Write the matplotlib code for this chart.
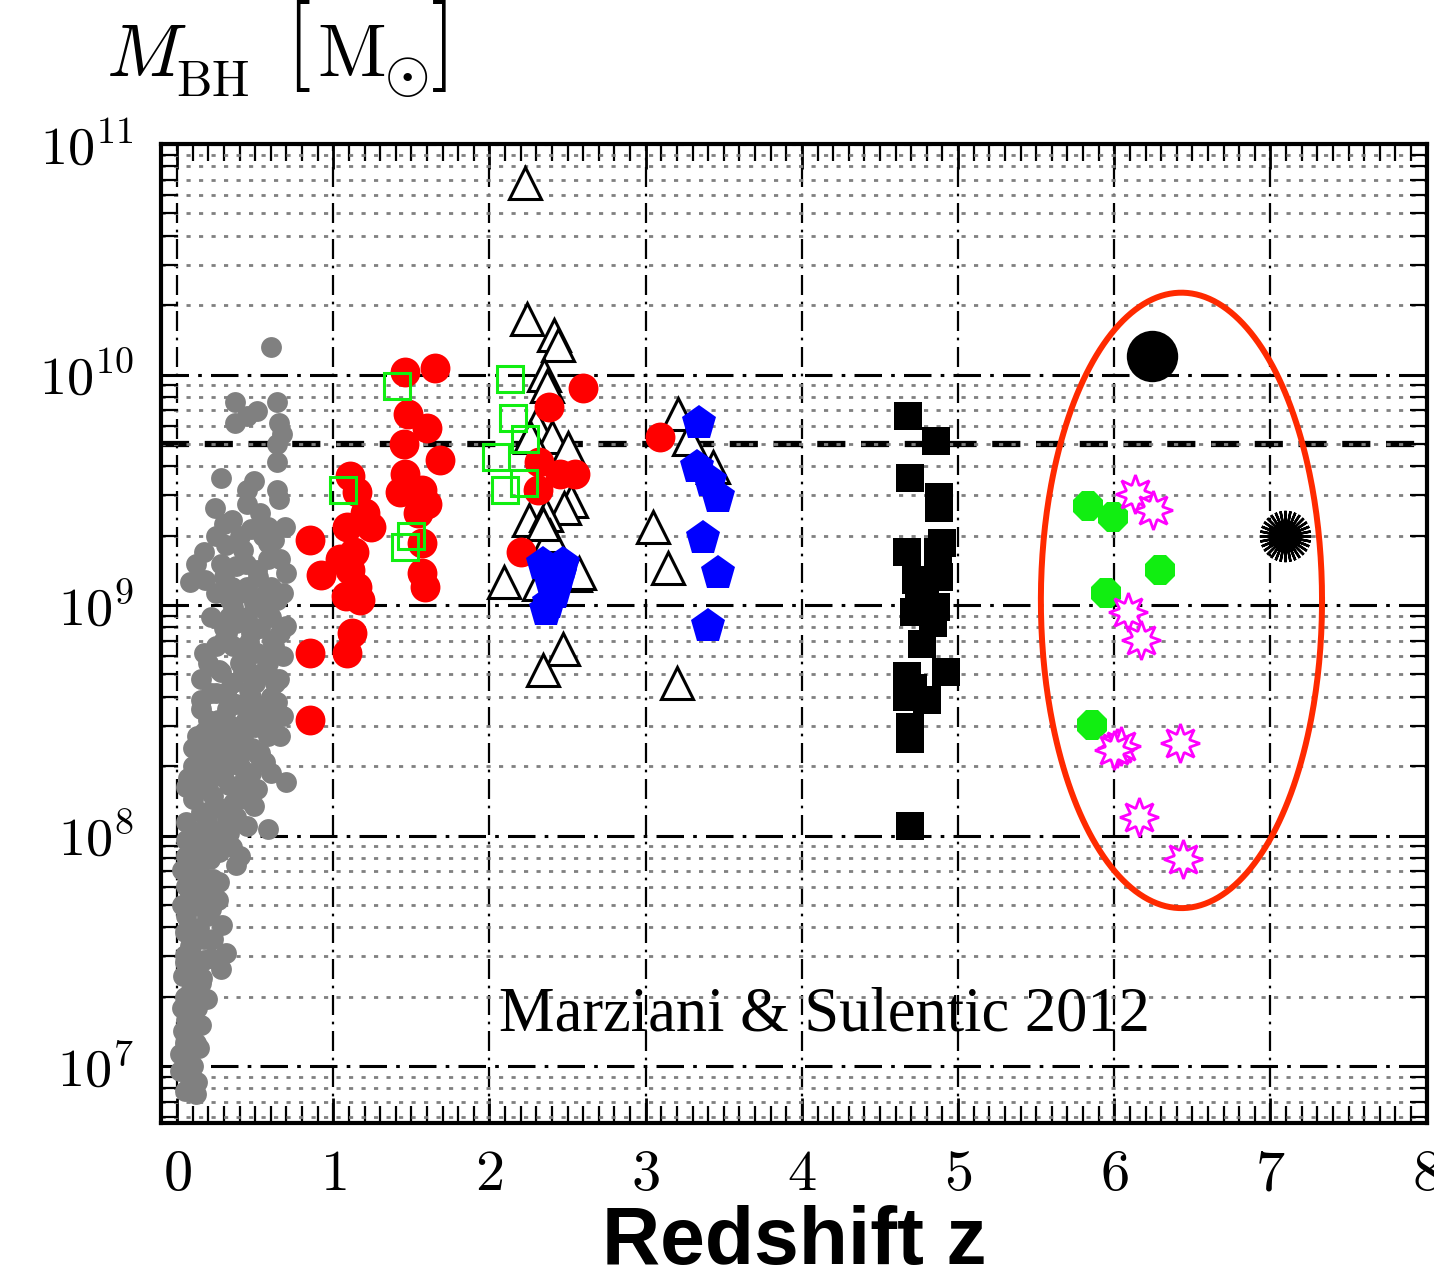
"""Black hole mass versus redshift (after Marziani & Sulentic 2012)."""

import numpy as np
import matplotlib
matplotlib.use('Agg')
from matplotlib import pyplot
from matplotlib.ticker import FixedLocator, FixedFormatter, MultipleLocator, LogLocator, NullFormatter

# --- data: redshift z and log10(M_BH / M_sun) for each sample ---
gray_z = [0.37, 0.37, 0.45, 0.51, 0.64, 0.65, 0.67, 0.64, 0.64, 0.28, 0.49, 0.45, 0.64, 0.65,
          0.24, 0.45, 0.35, 0.53, 0.58, 0.69, 0.17, 0.12, 0.18, 0.08, 0.31, 0.42, 0.58, 0.66,
          0.38, 0.51, 0.70, 0.35, 0.45, 0.60, 0.34, 0.49, 0.64, 0.33, 0.45, 0.60, 0.70, 0.32,
          0.17, 0.47, 0.61, 0.36, 0.51, 0.68, 0.65, 0.15, 0.28, 0.42, 0.55, 0.15, 0.32, 0.47,
          0.61, 0.64, 0.15, 0.32, 0.47, 0.13, 0.28, 0.42, 0.58, 0.66, 0.17, 0.36, 0.53, 0.60,
          0.70, 0.06, 0.17, 0.28, 0.42, 0.51, 0.10, 0.23, 0.36, 0.49, 0.06, 0.19, 0.32, 0.45,
          0.58, 0.06, 0.19, 0.32, 0.40, 0.06, 0.21, 0.38, 0.08, 0.23, 0.08, 0.26, 0.06, 0.19,
          0.29, 0.05, 0.17, 0.31, 0.05, 0.17, 0.28, 0.04, 0.15, 0.19, 0.06, 0.10, 0.04, 0.12,
          0.06, 0.02, 0.13, 0.05, 0.12, 0.60, 0.26, 0.22, 0.10, 0.20, 0.25, 0.40, 0.55, 0.30,
          0.22, 0.12, 0.25, 0.35, 0.14, 0.27, 0.09, 0.20,
          0.25, 0.30, 0.40, 0.47, 0.55, 0.62, 0.28, 0.44, 0.58, 0.25, 0.40, 0.55, 0.68,
          0.22, 0.38, 0.53, 0.66, 0.25, 0.42, 0.58, 0.20, 0.35, 0.50, 0.63, 0.22, 0.38,
          0.54, 0.68, 0.20, 0.34, 0.50, 0.62, 0.10, 0.22, 0.32, 0.48, 0.56, 0.12, 0.25,
          0.40, 0.47, 0.14, 0.33, 0.44, 0.15, 0.27, 0.38, 0.10, 0.24, 0.35, 0.12, 0.27,
          0.03, 0.14, 0.20, 0.12, 0.03, 0.22, 0.10, 0.23, 0.08, 0.11, 0.22, 0.09, 0.13,
          0.03, 0.07, 0.02, 0.10, 0.08,
          0.30, 0.52, 0.36, 0.56, 0.30, 0.46, 0.62, 0.27, 0.44, 0.58, 0.30, 0.46, 0.60,
          0.17, 0.30, 0.44, 0.56, 0.18, 0.30, 0.40, 0.52, 0.07, 0.18, 0.30, 0.40, 0.20,
          0.33, 0.06, 0.16, 0.27, 0.14, 0.05, 0.16, 0.06, 0.15, 0.05, 0.14, 0.05]
gray_logm = [9.88, 9.79, 9.82, 9.84, 9.88, 9.79, 9.74, 9.70, 9.62, 9.55, 9.54, 9.50, 9.50, 9.46,
             9.42, 9.44, 9.37, 9.40, 9.34, 9.34, 9.23, 9.18, 9.11, 9.10, 9.26, 9.24, 9.27, 9.20,
             9.17, 9.15, 9.14, 9.08, 9.08, 9.08, 9.02, 9.01, 9.02, 8.95, 8.95, 8.95, 8.91, 8.88,
             8.79, 8.88, 8.85, 8.82, 8.79, 8.78, 8.68, 8.68, 8.71, 8.71, 8.71, 8.59, 8.60, 8.60,
             8.59, 8.58, 8.55, 8.55, 8.53, 8.43, 8.45, 8.43, 8.43, 8.43, 8.36, 8.37, 8.36, 8.27,
             8.23, 8.21, 8.27, 8.26, 8.23, 8.20, 8.16, 8.17, 8.14, 8.13, 8.06, 8.07, 8.06, 8.04,
             8.03, 7.98, 7.97, 7.98, 7.91, 7.91, 7.90, 7.87, 7.82, 7.81, 7.74, 7.72, 7.65, 7.65,
             7.61, 7.58, 7.55, 7.49, 7.48, 7.46, 7.42, 7.39, 7.36, 7.29, 7.29, 7.20, 7.15, 7.10,
             7.04, 6.98, 6.93, 6.89, 6.88, 10.12, 8.50, 8.40, 8.30, 8.10, 8.62, 8.75, 8.52, 8.90,
             8.00, 7.95, 8.48, 8.66, 7.70, 8.33, 7.52, 8.20,
             9.30, 9.35, 9.30, 9.33, 9.30, 9.28, 9.18, 9.18, 9.20, 9.05, 9.05, 9.04, 9.05,
             8.95, 8.92, 8.90, 8.88, 8.82, 8.80, 8.75, 8.75, 8.66, 8.66, 8.66, 8.62, 8.57,
             8.55, 8.52, 8.50, 8.48, 8.47, 8.50, 8.38, 8.40, 8.40, 8.38, 8.32, 8.30, 8.32,
             8.30, 8.27, 8.20, 8.22, 8.16, 8.10, 8.12, 8.08, 8.02, 8.02, 7.95, 7.93, 7.93,
             7.85, 7.85, 7.76, 7.70, 7.70, 7.68, 7.60, 7.55, 7.52, 7.43, 7.47, 7.33, 7.25,
             7.25, 7.12, 7.05, 7.00, 6.92,
             9.12, 9.12, 8.99, 8.98, 8.85, 8.84, 8.82, 8.72, 8.73, 8.70, 8.62, 8.63, 8.60,
             8.45, 8.47, 8.50, 8.46, 8.34, 8.33, 8.35, 8.35, 8.25, 8.25, 8.28, 8.19, 8.00,
             8.01, 7.78, 7.78, 7.80, 7.60, 7.45, 7.38, 7.20, 7.18, 7.30, 7.08, 7.10]

red_z = [0.85, 0.92, 0.85, 0.85, 1.11, 1.15, 1.20, 1.24, 1.09, 1.13, 1.11, 1.15, 1.08, 1.17,
         1.12, 1.09, 1.04, 1.46, 1.65, 1.48, 1.60, 1.45, 1.68, 1.46, 1.57, 1.43, 1.60, 1.54,
         1.57, 1.57, 1.59, 2.60, 2.38, 2.32, 2.45, 2.55, 2.31, 2.20, 3.09]
red_logm = [9.28, 9.13, 8.79, 8.50, 9.56, 9.49, 9.40, 9.34, 9.34, 9.23, 9.15, 9.08, 9.04, 9.02,
            8.88, 8.79, 9.20, 10.01, 10.03, 9.83, 9.77, 9.70, 9.63, 9.57, 9.50, 9.49, 9.44, 9.40,
            9.27, 9.14, 9.08, 9.94, 9.86, 9.62, 9.57, 9.57, 9.50, 9.23, 9.73]

sq_green_z = [1.41, 1.06, 1.50, 1.46, 2.13, 2.15, 2.23, 2.04, 2.22, 2.10]
sq_green_logm = [9.95, 9.50, 9.30, 9.25, 9.98, 9.81, 9.72, 9.64, 9.53, 9.50]

tri_z = [2.23, 2.24, 2.41, 2.44, 2.35, 2.37, 2.30, 2.40, 2.26, 2.50, 2.52, 2.48, 2.25, 2.36,
         2.39, 2.34, 2.55, 2.09, 2.32, 2.47, 2.34, 2.57, 3.21, 3.28, 3.43, 3.05, 3.14, 3.20]
tri_logm = [10.83, 10.24, 10.17, 10.13, 10.00, 9.95, 9.78, 9.73, 9.73, 9.68, 9.45, 9.42, 9.37,
            9.39, 9.30, 9.35, 9.13, 9.10, 9.09, 8.81, 8.72, 9.14, 9.83, 9.72, 9.60, 9.34, 9.16,
            8.66]

blue_z = [2.34, 2.47, 2.42, 2.36, 2.39, 2.45, 2.38, 3.34, 3.33, 3.41, 3.46, 3.37, 3.46, 3.40]
blue_logm = [9.18, 9.18, 9.05, 8.98, 9.11, 9.13, 9.01, 9.79, 9.60, 9.54, 9.47, 9.29, 9.14, 8.91]

black_sq_z = [4.68, 4.86, 4.69, 4.88, 4.88, 4.90, 4.67, 4.87, 4.73, 4.88, 4.86, 4.72, 4.77,
              4.92, 4.67, 4.80, 4.69, 4.69, 4.69, 4.79, 4.71, 4.84, 4.67, 4.75]
black_sq_logm = [9.82, 9.71, 9.55, 9.47, 9.42, 9.27, 9.23, 9.23, 9.11, 9.12, 8.99, 8.97, 8.83,
                 8.71, 8.69, 8.59, 8.47, 8.42, 8.04, 9.07, 8.64, 8.92, 8.60, 9.00]

oct_z = [5.83, 5.99, 6.29, 5.95, 5.86]
oct_logm = [9.43, 9.38, 9.15, 9.05, 8.48]

star_z = [6.13, 6.25, 6.09, 6.17, 6.02, 6.04, 6.00, 6.42, 6.16, 6.44]
star_logm = [9.48, 9.41, 8.97, 8.85, 8.38, 8.39, 8.37, 8.40, 8.08, 7.90]

big_z, big_logm = [6.24], [10.08]
burst_z, burst_logm = [7.09], [9.30]

# high-z ellipse: centre (z, logM) and half axes (z, dex)
ring_centre = (6.43, 9.02)
ring_half = (0.90, 1.335)
mass_line = 5e9

ztick_values = [0, 1, 2, 3, 4, 5, 6, 7, 8]
ztick_labels = ['$0$', '$1$', '$2$', '$3$', '$4$', '$5$', '$6$', '$7$', '$8$']
mtick_values = [1e7, 1e8, 1e9, 1e10, 1e11]
mtick_labels = [r'$10^{7}$', r'$10^{8}$', r'$10^{9}$', r'$10^{10}$', r'$10^{11}$']

pyplot.rcParams['mathtext.fontset'] = 'cm'
fig = pyplot.figure(figsize=(14.34, 12.8), dpi=100)
ax = fig.add_axes([0.1126, 0.1227, 0.8823, 0.7648])
ax.set_yscale('log')
ax.set_xlim(-0.1, 8.0)
ax.set_ylim(10**6.753, 1e11)

# grids
dashdot = (0, (9, 3, 1.2, 3))
for z in ztick_values:
    ax.axvline(z, color='black', lw=1.6, ls=dashdot, zorder=1)
for m in mtick_values:
    ax.axhline(m, color='black', lw=2.2, ls=dashdot, zorder=1)
ax.yaxis.set_minor_locator(LogLocator(base=10, subs=np.arange(2, 10)))
ax.yaxis.set_minor_formatter(NullFormatter())
ax.grid(which='minor', axis='y', color='gray', lw=2.0, ls=(0, (1.5, 3.0)), zorder=0)
ax.axhline(mass_line, color='black', lw=4.5, ls=(0, (4.5, 2.5)), zorder=1)


def pts(logm):
    return 10**np.asarray(logm)


ax.plot(gray_z, pts(gray_logm), 'o', color='gray', ms=15, mew=0, zorder=2)
ax.plot(tri_z, pts(tri_logm), '^', mfc='white', mec='black', ms=23, mew=2.2, zorder=3)
ax.plot(red_z, pts(red_logm), 'o', color='red', ms=21.5, mew=0, zorder=4)
ax.plot(sq_green_z, pts(sq_green_logm), 's', mfc='none', mec='#11ee11', ms=19, mew=2.2, zorder=5)
ax.plot(blue_z, pts(blue_logm), 'p', color='blue', ms=26, mew=0, zorder=5)
ax.plot(black_sq_z, pts(black_sq_logm), 's', color='black', ms=19.5, mew=0, zorder=5)
ax.plot(oct_z, pts(oct_logm), '8', color='#11ee11', ms=24, mew=0, zorder=5)
ax.plot(star_z, pts(star_logm), marker=(8, 1, 0), ls='none', mfc='white', mec='magenta',
        ms=28, mew=2.0, zorder=6)
ax.plot(big_z, pts(big_logm), 'o', color='black', ms=37, mew=0, zorder=5)
ax.plot(burst_z, pts(burst_logm), marker=(32, 2, 0), ls='none', color='black', ms=37,
        mew=1.8, zorder=5)

t = np.linspace(0.0, 2.0*np.pi, 400)
ax.plot(ring_centre[0] + ring_half[0]*np.cos(t),
        10**(ring_centre[1] + ring_half[1]*np.sin(t)),
        color='#ff2a00', lw=4.3, zorder=7)

ax.text(0.524, 0.110, 'Marziani & Sulentic 2012', transform=ax.transAxes,
        ha='center', va='center', fontsize=45, family='Liberation Serif', zorder=8)

# ticks
ax.xaxis.set_major_locator(FixedLocator(ztick_values))
ax.xaxis.set_major_formatter(FixedFormatter(ztick_labels))
ax.xaxis.set_minor_locator(MultipleLocator(0.1))
ax.yaxis.set_major_locator(FixedLocator(mtick_values))
ax.yaxis.set_major_formatter(FixedFormatter(mtick_labels))
ax.tick_params(which='both', direction='in', top=True, right=True, color='black')
ax.tick_params(which='major', length=18, width=2.0)
ax.tick_params(which='minor', length=12, width=1.6)
ax.tick_params(axis='x', which='major', pad=16, labelsize=42)
ax.tick_params(axis='y', which='major', pad=20, labelsize=39)
for side in ax.spines.values():
    side.set_linewidth(3.0)
    side.set_zorder(9)

ax.set_xlabel('Redshift z', fontsize=58, fontweight='bold', family='Liberation Sans',
              labelpad=2)

# y-axis title above the axes, pieced together so the brackets are tall
fig.text(0.074, 0.941, r'$M$', fontsize=54, ha='left', va='baseline')
fig.text(0.123, 0.925, r'$\mathrm{BH}$', fontsize=36, ha='left', va='baseline')
fig.text(0.199, 0.946, r'$[$', fontsize=66, ha='left', va='baseline')
fig.text(0.221, 0.941, r'$\mathrm{M}$', fontsize=54, ha='left', va='baseline')
fig.text(0.268, 0.928, r'$\odot$', fontsize=42, ha='left', va='baseline')
fig.text(0.300, 0.946, r'$]$', fontsize=66, ha='left', va='baseline')

fig.savefig('out.png', dpi=100)
